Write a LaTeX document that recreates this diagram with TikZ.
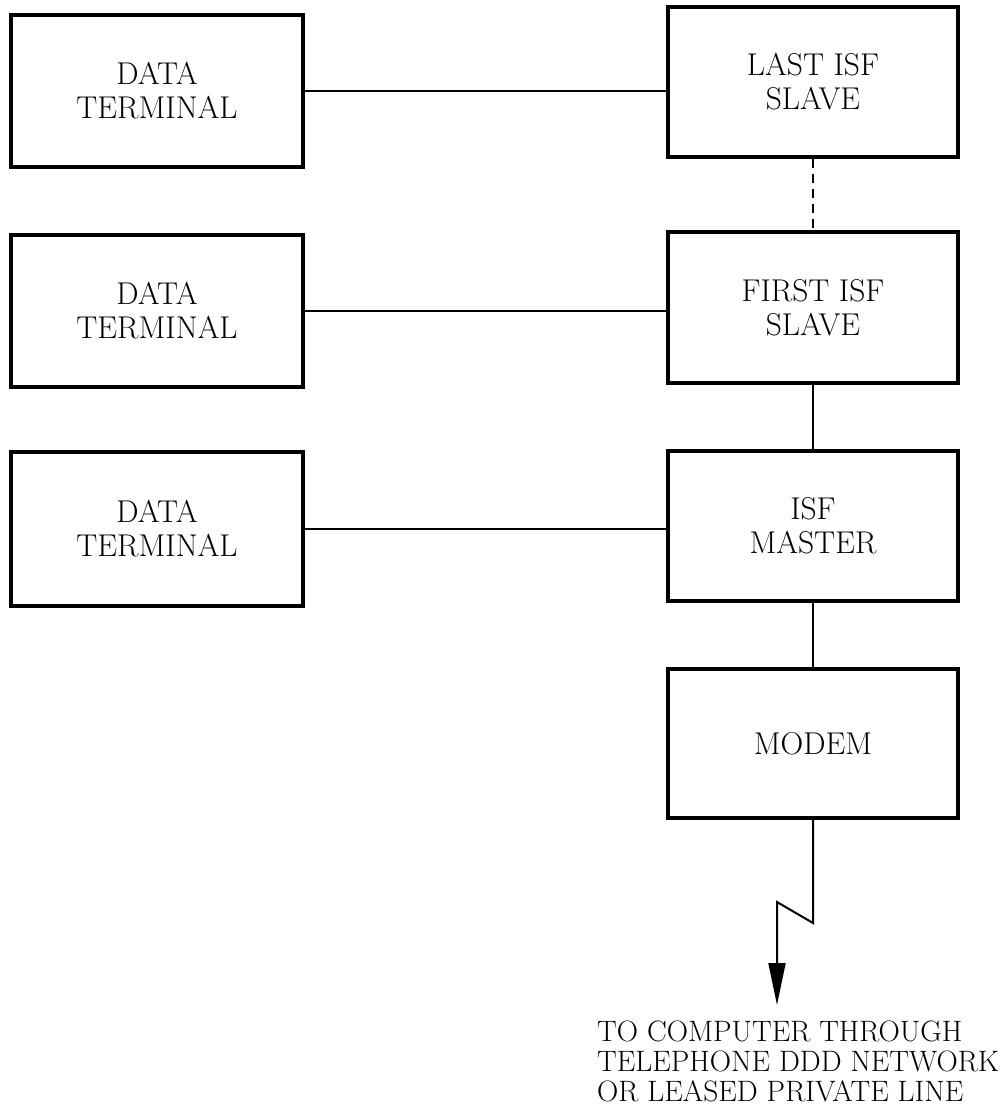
\documentclass[tikz,border=0pt]{standalone}
\usepackage{fontspec}
\usetikzlibrary{arrows.meta}
\begin{document}
\begin{tikzpicture}[x=1pt,y=-1pt,
  blk/.style={draw, line width=3.6pt, minimum width=290pt, minimum height=150pt, align=center, inner sep=0pt, font=\fontsize{31.5}{34}\selectfont\addfontfeatures{FakeBold=0.8}},
  conn/.style={line width=2pt},
  lbl/.style={align=left, inner sep=0pt, font=\fontsize{29.5}{30}\selectfont\addfontfeatures{FakeBold=0.8}}]
\useasboundingbox (0,0) rectangle (1007,1112);
\node[blk, minimum width=292pt, minimum height=152pt] (dt1) at (157,91) {DATA\\TERMINAL};
\node[blk, minimum width=292pt, minimum height=152pt] (dt2) at (157,311) {DATA\\TERMINAL};
\node[blk, minimum width=292pt, minimum height=154pt] (dt3) at (157,529) {DATA\\TERMINAL};
\node[blk] (last) at (813,82) {LAST ISF\\SLAVE};
\node[blk, minimum height=151pt] (first) at (813,307.5) {FIRST ISF\\SLAVE};
\node[blk] (master) at (813,526) {ISF\\MASTER};
\node[blk, minimum height=149pt] (modem) at (813,743.5) {MODEM};
\draw[conn] (dt1.east) -- (last.west |- dt1.east);
\draw[conn] (dt2.east) -- (first.west |- dt2.east);
\draw[conn] (dt3.east) -- (master.west |- dt3.east);
\draw[conn, dashed, dash pattern=on 9pt off 6pt] (last.south) -- (first.north);
\draw[conn] (first.south) -- (master.north);
\draw[conn] (master.south) -- (modem.south |- modem.north);
\coordinate (z1) at (813,923);
\coordinate (z2) at (777,902);
\coordinate (tip) at (777,1005);
\draw[conn, line join=miter, -{Triangle[length=42pt,width=17pt]}] (modem.south) -- (z1) -- (z2) -- (tip);
\node[lbl, anchor=north west] (txt) at (597,1021) {TO COMPUTER THROUGH\\TELEPHONE DDD NETWORK\\OR LEASED PRIVATE LINE};
\end{tikzpicture}
\end{document}
